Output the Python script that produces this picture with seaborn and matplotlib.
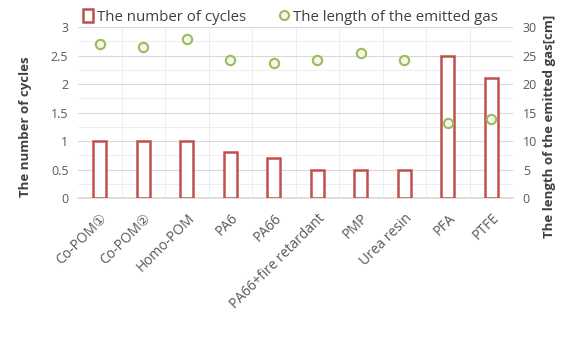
import matplotlib
matplotlib.use("Agg")
import matplotlib.pyplot as plt
import seaborn as sns
import pandas as pd
from matplotlib.lines import Line2D
from matplotlib.patches import Patch

categories = ["Co-POM①", "Co-POM②", "Homo-POM", "PA6", "PA66", "PA66+fire retardant",
              "PMP", "Urea resin", "PFA", "PTFE"]
cycles = [1.0, 1.0, 1.0, 0.8, 0.7, 0.5, 0.5, 0.5, 2.5, 2.1]
gas_length = [27.0, 26.5, 27.9, 24.3, 23.7, 24.2, 25.5, 24.2, 13.2, 13.9]

sns.set_theme(style="white")
plt.rcParams['font.family'] = ['Open Sans', 'DejaVu Sans']

df = pd.DataFrame({"cat": categories, "cycles": cycles, "gas": gas_length})

fig = plt.figure(figsize=(5.62, 3.38), dpi=100)
ax = fig.add_axes([0.139, 0.414, 0.774, 0.506])

red = "#C0504D"
green = "#9BBB59"
tick_c = "#595959"

sns.barplot(data=df, x="cat", y="cycles", ax=ax, color="white", edgecolor=red,
            linewidth=1.8, width=0.3, zorder=3)
ax.set_ylim(0, 3)
ax.set_yticks([0, 0.5, 1, 1.5, 2, 2.5, 3])
ax.set_yticklabels(["0", "0.5", "1", "1.5", "2", "2.5", "3"])
ax.set_xlim(-0.5, len(categories) - 0.5)
ax.set_xlabel("")
ax.set_ylabel("The number of cycles", fontsize=9.5, fontweight="bold", color="#404040")
ax.yaxis.set_label_coords(-0.106, 0.415)
ax.tick_params(axis="y", labelsize=9, colors=tick_c, length=0, pad=7)
ax.tick_params(axis="x", labelsize=10, colors=tick_c, length=0, pad=9)
plt.setp(ax.get_xticklabels(), rotation=45, ha="right", rotation_mode="anchor")

ax.set_yticks([0.25, 0.75, 1.25, 1.75, 2.25, 2.75], minor=True)
ax.set_xticks([i + 0.5 for i in range(len(categories) - 1)], minor=True)
ax.grid(True, which="major", axis="y", color="#D9D9D9", linewidth=0.8, zorder=0)
ax.grid(True, which="minor", axis="both", color="#EBEBEB", linewidth=0.6, zorder=0)
ax.tick_params(which="minor", length=0)
for s in ax.spines.values():
    s.set_visible(False)
ax.spines["bottom"].set_visible(True)
ax.spines["bottom"].set_color("#D9D9D9")

ax2 = ax.twinx()
sns.scatterplot(data=df, x="cat", y="gas", ax=ax2, marker="o", s=45,
                facecolor="#F4F8EC", edgecolor=green, linewidth=1.5, zorder=4)
ax2.set_ylim(0, 30)
ax2.set_yticks([0, 5, 10, 15, 20, 25, 30])
ax2.set_ylabel("The length of the emitted gas[cm]", fontsize=9.5, fontweight="bold",
               color="#404040")
ax2.yaxis.set_label_coords(1.069, 0.42)
ax2.tick_params(axis="y", labelsize=9, colors=tick_c, length=0, pad=7)
for s in ax2.spines.values():
    s.set_visible(False)
ax2.grid(False)

handles = [Patch(facecolor="white", edgecolor=red, linewidth=1.8),
           Line2D([], [], marker="o", linestyle="none", markersize=6.5,
                  markerfacecolor="#F4F8EC", markeredgecolor=green, markeredgewidth=1.5)]
fig.legend(handles, ["The number of cycles", "The length of the emitted gas"],
           loc="center", bbox_to_anchor=(0.517, 0.95), ncol=2, frameon=False,
           fontsize=10.8, handlelength=0.7, handleheight=0.9, handletextpad=0.25,
           columnspacing=2.2, labelcolor="#404040")

fig.savefig("out.png", dpi=100)
